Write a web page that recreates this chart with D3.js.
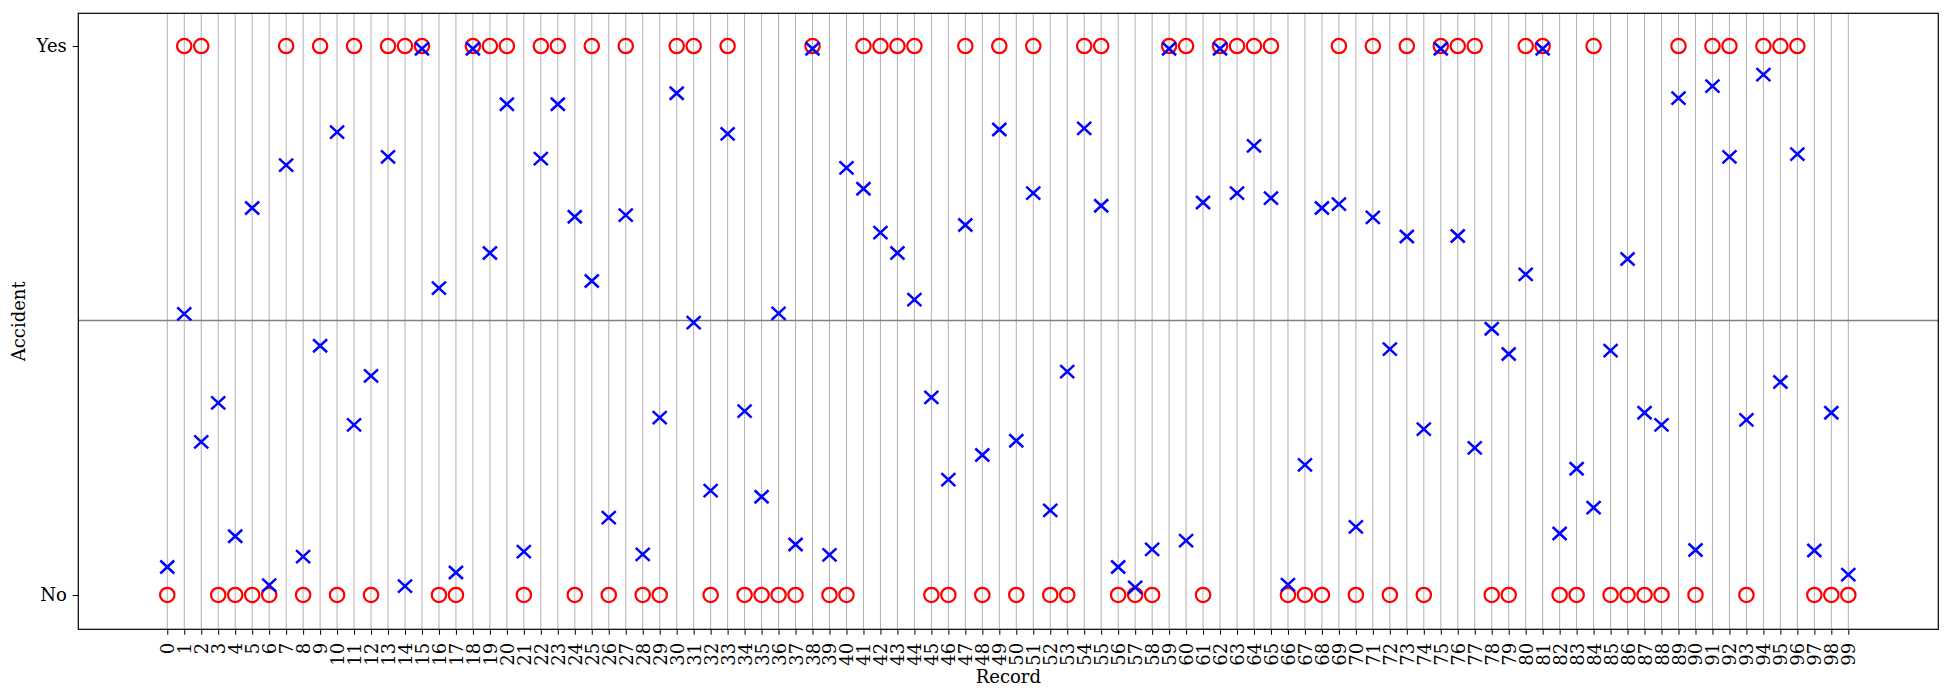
<!DOCTYPE html>
<html>
<head>
<meta charset="utf-8">
<script src="https://cdn.jsdelivr.net/npm/d3@7"></script>
<style>
  html, body { margin: 0; padding: 0; background: #fff; }
  svg { display: block; font-family: "DejaVu Serif", serif; }
</style>
</head>
<body>
<svg id="chart" width="1951" height="697"></svg>
<script>
// ---- data ----
const records = d3.range(100);
const accident = [
  0,1,1,0,0,0,0,1,0,1,0,1,0,1,
  1,1,0,0,1,1,1,0,1,1,0,1,0,1,0,0,1,1,0,1,0,0,0,
  0,1,0,0,1,1,1,1,0,0,1,0,1,0,1,0,0,1,1,0,0,0,
  1,1,0,1,1,1,1,0,0,0,1,0,1,0,1,0,1,1,1,0,0,1,
  1,0,0,1,0,0,0,0,1,0,1,1,0,1,1,1,0,0,0
];
const predicted = [
  0.051,0.512,0.279,0.350,0.107,0.705,0.018,0.783,0.070,0.454,0.843,0.310,0.399,0.798,
  0.016,0.995,0.559,0.041,0.995,0.623,0.894,0.079,0.795,0.894,0.689,0.572,0.141,0.692,0.074,0.323,0.914,0.496,0.190,0.840,0.335,0.179,0.513,
  0.092,0.995,0.073,0.778,0.740,0.660,0.623,0.538,0.360,0.210,0.674,0.255,0.848,0.281,0.732,0.154,0.407,0.850,0.709,0.051,0.014,0.083,
  0.995,0.099,0.715,0.995,0.732,0.818,0.723,0.019,0.237,0.705,0.712,0.124,0.688,0.448,0.653,0.302,0.995,0.654,0.268,0.485,0.439,0.584,
  0.995,0.112,0.230,0.159,0.445,0.612,0.332,0.310,0.905,0.082,0.927,0.798,0.319,0.948,0.388,0.803,0.081,0.332,0.037
];
const yTickValues = [0, 1];
const yTickLabels = ["No", "Yes"];
const threshold = 0.5;
const xLabel = "Record";
const yLabel = "Accident";

// ---- layout ----
const svg = d3.select("#chart");
const pLeft = 78.3, pRight = 1938.3, pTop = 13.3, pBottom = 629.3;
const x = d3.scaleLinear().domain([-5.24, 104.3]).range([pLeft, pRight]);
const y = d3.scaleLinear().domain([-0.0625, 1.0596]).range([pBottom, pTop]);

// vertical grid
svg.append("g").selectAll("line").data(records).join("line")
  .attr("x1", d => x(d)).attr("x2", d => x(d))
  .attr("y1", pTop).attr("y2", pBottom)
  .attr("stroke", "#b0b0b0").attr("stroke-width", 1);

// threshold line
svg.append("line")
  .attr("x1", pLeft).attr("x2", pRight)
  .attr("y1", y(threshold)).attr("y2", y(threshold))
  .attr("stroke", "#808080").attr("stroke-width", 1.5);

// actual (red circles)
svg.append("g").selectAll("circle").data(records).join("circle")
  .attr("cx", d => x(d)).attr("cy", d => y(accident[d]))
  .attr("r", 7.2)
  .attr("fill", "none").attr("stroke", "#ff0000").attr("stroke-width", 2.2);

// predicted (blue x)
const hw = 7, hh = 6.5;
svg.append("g").selectAll("path").data(records).join("path")
  .attr("d", d => {
    const cx = x(d), cy = y(predicted[d]);
    return `M${cx-hw},${cy-hh}L${cx+hw},${cy+hh}M${cx-hw},${cy+hh}L${cx+hw},${cy-hh}`;
  })
  .attr("fill", "none").attr("stroke", "#0000ff").attr("stroke-width", 2.5);

// frame
svg.append("rect")
  .attr("x", pLeft).attr("y", pTop)
  .attr("width", pRight - pLeft).attr("height", pBottom - pTop)
  .attr("fill", "none").attr("stroke", "#000").attr("stroke-width", 1.2);

// x axis
const xAxis = d3.axisBottom(x).tickValues(records).tickSize(5.5).tickPadding(0).tickFormat(d3.format("d"));
const gx = svg.append("g").attr("transform", `translate(0,${pBottom})`).call(xAxis);
gx.select(".domain").remove();
gx.selectAll(".tick line").attr("stroke", "#000").attr("stroke-width", 1);
gx.selectAll(".tick text")
  .attr("font-family", "DejaVu Serif").attr("font-size", 18).attr("fill", "#000")
  .attr("y", 0).attr("dy", null)
  .attr("transform", "translate(0,13.5) rotate(-90)")
  .attr("text-anchor", "end")
  .attr("dominant-baseline", "central");

// y axis
const yAxis = d3.axisLeft(y).tickValues(yTickValues).tickSize(5.5).tickPadding(6)
  .tickFormat((d, i) => yTickLabels[i]);
const gy = svg.append("g").attr("transform", `translate(${pLeft},0)`).call(yAxis);
gy.select(".domain").remove();
gy.selectAll(".tick line").attr("stroke", "#000").attr("stroke-width", 1);
gy.selectAll(".tick text")
  .attr("font-family", "DejaVu Serif").attr("font-size", 18).attr("fill", "#000");

// axis labels
svg.append("text")
  .attr("x", (pLeft + pRight) / 2).attr("y", 683)
  .attr("text-anchor", "middle")
  .attr("font-size", 18).attr("fill", "#000")
  .text(xLabel);
svg.append("text")
  .attr("transform", `translate(25,${(pTop + pBottom) / 2}) rotate(-90)`)
  .attr("text-anchor", "middle")
  .attr("font-size", 18).attr("fill", "#000")
  .text(yLabel);
</script>
</body>
</html>
